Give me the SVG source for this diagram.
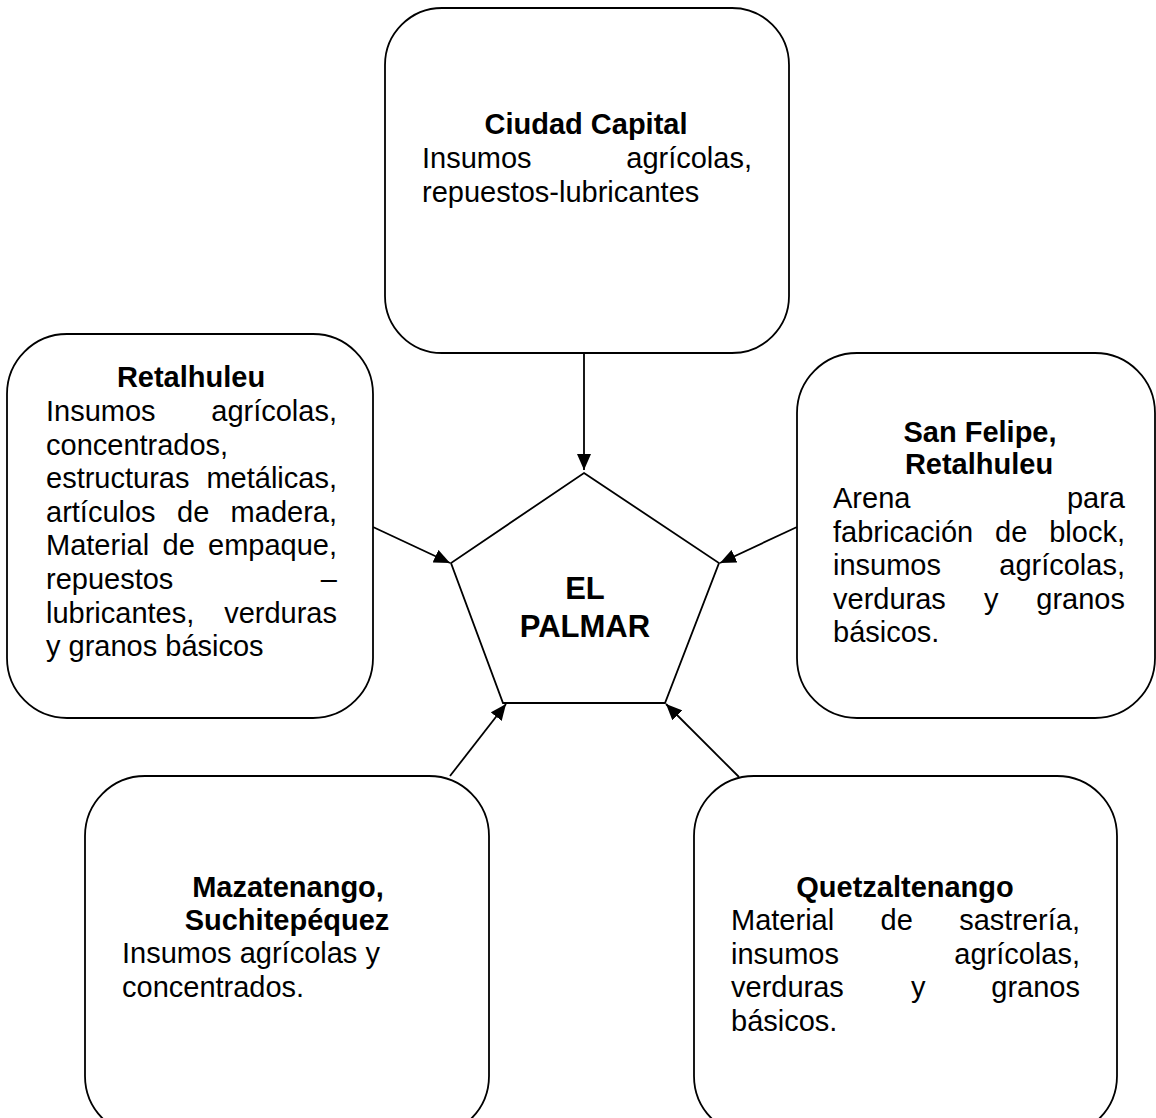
<svg xmlns="http://www.w3.org/2000/svg" width="1156" height="1118" viewBox="0 0 1156 1118">
<defs>
<style>
.box{fill:#fff;stroke:#000;stroke-width:1.8}
.t{font-family:"Liberation Sans",Arial,sans-serif;font-size:29px;fill:#000}
.b{font-weight:bold;text-anchor:middle}
.e{text-anchor:end}
.c{stroke:#000;stroke-width:1.8;fill:none}
.big{font-family:"Liberation Sans",Arial,sans-serif;font-size:31px;font-weight:bold;text-anchor:middle}
</style>
<marker id="ah" markerUnits="userSpaceOnUse" markerWidth="17" markerHeight="14" refX="16" refY="7" orient="auto">
<path d="M0,0 L16,7 L0,14 z" fill="#000"/>
</marker>
</defs>
<rect width="1156" height="1118" fill="#fff"/>

<g id="connectors">
<line class="c" x1="584" y1="353" x2="584" y2="470" marker-end="url(#ah)"/>
<line class="c" x1="373" y1="527" x2="450" y2="563" marker-end="url(#ah)"/>
<line class="c" x1="797" y1="527" x2="720" y2="563" marker-end="url(#ah)"/>
<line class="c" x1="450" y1="776" x2="506" y2="704" marker-end="url(#ah)"/>
<line class="c" x1="739" y1="777" x2="666" y2="704" marker-end="url(#ah)"/>
</g>

<g id="el-palmar">
<polygon class="box" points="584,473 719,563 665,703 503,703 451,563"/>
<text class="big" x="585" y="599">EL</text>
<text class="big" x="585" y="637">PALMAR</text>
</g>

<g id="ciudad-capital">
<rect class="box" x="385" y="8" width="404" height="345" rx="57" ry="57"/>
<text class="t b" x="586" y="134">Ciudad Capital</text>
<text class="t" x="422" y="168">Insumos</text>
<text class="t e" x="752" y="168">agrícolas,</text>
<text class="t" x="422" y="202">repuestos-lubricantes</text>
</g>

<g id="retalhuleu">
<rect class="box" x="7" y="334" width="366" height="384" rx="60" ry="60"/>
<text class="t b" x="191" y="387">Retalhuleu</text>
<text class="t" x="46" y="421">Insumos</text>
<text class="t e" x="337" y="421">agrícolas,</text>
<text class="t" x="46" y="455">concentrados,</text>
<text class="t" x="46" y="488">estructuras</text>
<text class="t e" x="337" y="488">metálicas,</text>
<text class="t" x="46" y="522">artículos</text>
<text class="t" x="177" y="522">de</text>
<text class="t e" x="337" y="522">madera,</text>
<text class="t" x="46" y="555">Material</text>
<text class="t" x="162.5" y="555">de</text>
<text class="t e" x="337" y="555">empaque,</text>
<text class="t" x="46" y="589">repuestos</text>
<text class="t e" x="337" y="589">–</text>
<text class="t" x="46" y="623">lubricantes,</text>
<text class="t e" x="337" y="623">verduras</text>
<text class="t" x="46" y="656">y granos básicos</text>
</g>

<g id="san-felipe">
<rect class="box" x="797" y="353" width="358" height="365" rx="60" ry="60"/>
<text class="t b" x="980" y="442">San Felipe,</text>
<text class="t b" x="979" y="474">Retalhuleu</text>
<text class="t" x="833" y="508">Arena</text>
<text class="t e" x="1125" y="508">para</text>
<text class="t" x="833" y="541.5">fabricación</text>
<text class="t" x="995" y="541.5">de</text>
<text class="t e" x="1125" y="541.5">block,</text>
<text class="t" x="833" y="575">insumos</text>
<text class="t e" x="1125" y="575">agrícolas,</text>
<text class="t" x="833" y="608.5">verduras</text>
<text class="t" x="984" y="608.5">y</text>
<text class="t e" x="1125" y="608.5">granos</text>
<text class="t" x="833" y="642">básicos.</text>
</g>

<g id="mazatenango">
<rect class="box" x="85" y="776" width="404" height="360" rx="60" ry="60"/>
<text class="t b" x="288" y="897">Mazatenango,</text>
<text class="t b" x="287" y="930">Suchitepéquez</text>
<text class="t" x="122" y="963">Insumos agrícolas y</text>
<text class="t" x="122" y="997">concentrados.</text>
</g>

<g id="quetzaltenango">
<rect class="box" x="694" y="776" width="423" height="360" rx="60" ry="60"/>
<text class="t b" x="905" y="897">Quetzaltenango</text>
<text class="t" x="731" y="930">Material</text>
<text class="t" x="880.5" y="930">de</text>
<text class="t e" x="1080" y="930">sastrería,</text>
<text class="t" x="731" y="964">insumos</text>
<text class="t e" x="1080" y="964">agrícolas,</text>
<text class="t" x="731" y="997">verduras</text>
<text class="t" x="911" y="997">y</text>
<text class="t e" x="1080" y="997">granos</text>
<text class="t" x="731" y="1031">básicos.</text>
</g>
</svg>
